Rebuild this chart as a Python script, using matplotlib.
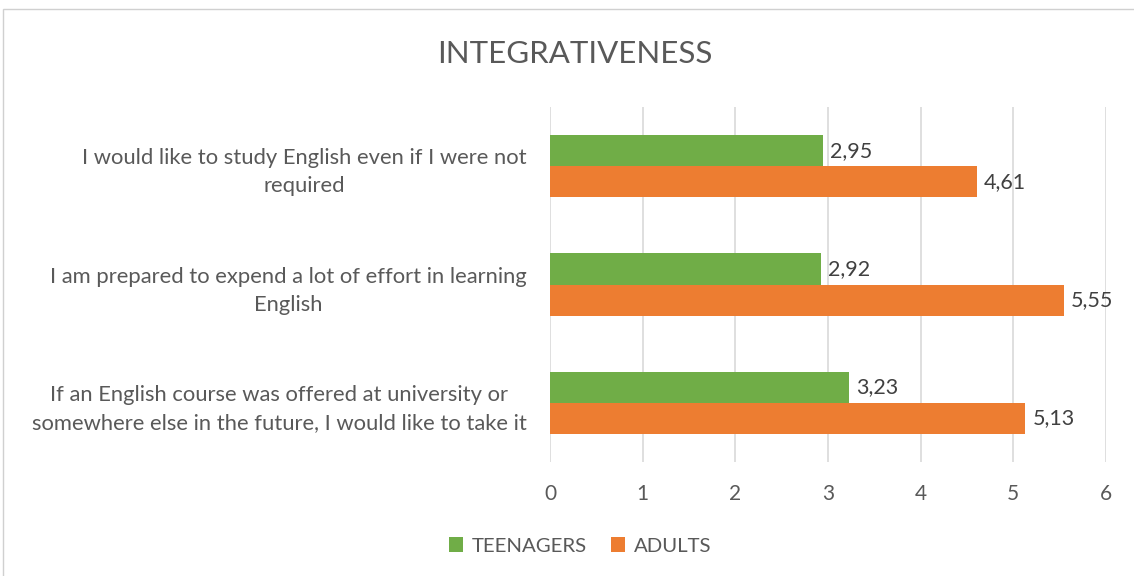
import matplotlib.pyplot as plt
import numpy as np
from matplotlib.patches import Rectangle

plt.rcParams['font.family'] = ['Lato', 'DejaVu Sans']

# Data
categories = [
    "I would like to study English even if I were not\nrequired",
    "I am prepared to expend a lot of effort in learning\nEnglish",
    "If an English course was offered at university or\nsomewhere else in the future, I would like to take it",
]
teenagers = [2.95, 2.92, 3.23]
adults = [4.61, 5.55, 5.13]
labels_teen = ["2,95", "2,92", "3,23"]
labels_adult = ["4,61", "5,55", "5,13"]

green = '#70AD47'
orange = '#ED7D31'
text_col = '#595959'
grid_col = '#D9D9D9'

fig = plt.figure(figsize=(11.34, 5.76), dpi=100)
ax = fig.add_axes([550 / 1134, 1 - 462 / 576, 556 / 1134, 355 / 576])

y = np.arange(len(categories))
h = 0.263
ax.barh(y - h / 2, teenagers, height=h, color=green, label='TEENAGERS')
ax.barh(y + h / 2, adults, height=h, color=orange, label='ADULTS')

for i in range(len(categories)):
    ax.text(teenagers[i] + 0.075, y[i] - h / 2, labels_teen[i], va='center', ha='left',
            fontsize=15.5, color='#404040')
    ax.text(adults[i] + 0.075, y[i] + h / 2, labels_adult[i], va='center', ha='left',
            fontsize=15.5, color='#404040')

ax.set_xlim(0, 6)
ax.set_ylim(len(categories) - 0.5, -0.5)
ax.set_xticks(range(7))
ax.set_yticks(y)
ax.set_yticklabels(categories, multialignment='center', fontsize=15.8, color=text_col,
                   linespacing=1.5)
ax.tick_params(axis='x', length=0, pad=16, labelsize=15, labelcolor=text_col)
ax.tick_params(axis='y', length=0, pad=17)
ax.xaxis.grid(True, color=grid_col, lw=1.2)
ax.set_axisbelow(True)
for s in ax.spines.values():
    s.set_visible(False)

fig.text(575 / 1134, 1 - 54 / 576, 'INTEGRATIVENESS', ha='center', va='center',
         fontsize=22.5, color=text_col)

fig.legend(loc='center', bbox_to_anchor=(580 / 1134, 1 - 546 / 576), ncol=2, frameon=False,
           fontsize=14.7, labelcolor=text_col, handlelength=0.7, handleheight=0.7,
           handletextpad=0.4, columnspacing=1.2)

# outer chart frame
fig.patches.append(Rectangle((3 / 1134, -0.01), 1.02, 1 - 9 / 576 + 0.01, transform=fig.transFigure,
                             fill=False, edgecolor='#D0D0D0', lw=1))

fig.savefig('out.png', dpi=100)
